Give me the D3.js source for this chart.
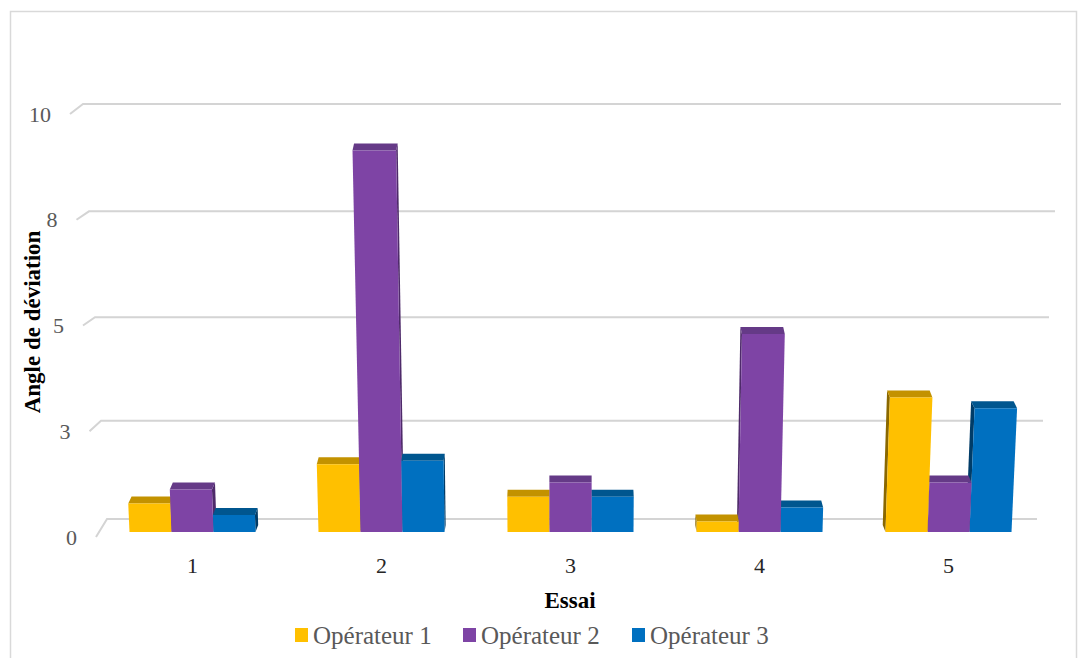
<!DOCTYPE html>
<html>
<head>
<meta charset="utf-8">
<script src="https://cdn.jsdelivr.net/npm/d3@7"></script>
<style>
  body { margin: 0; background: #fff; }
  text { font-family: "Liberation Serif", "DejaVu Serif", serif; }
</style>
</head>
<body>
<div id="chart"></div>
<script>
// data
const categories = ["1", "2", "3", "4", "5"];
const seriesNames = ["Opérateur 1", "Opérateur 2", "Opérateur 3"];
const op1 = [0.67, 1.6, 0.83, 0.25, 3.17];
const op2 = [1.0, 9.0, 1.17, 4.67, 1.17];
const op3 = [0.4, 1.68, 0.83, 0.58, 2.92];
const yTicks = [0, 2.5, 5, 7.5, 10];
const yTickLabels = ["0", "3", "5", "8", "10"];

const seriesValues = [op1, op2, op3];
const colors = {
  front: ["#ffc000", "#7e44a5", "#0070c0"],
  top: ["#c39200", "#653a87", "#00568f"],
  side: ["#8a6800", "#4e2a6a", "#003c68"],
};

const width = 1084, height = 658;
const svg = d3.select("#chart").append("svg")
  .attr("width", width)
  .attr("height", height);

// outer frame
svg.append("rect")
  .attr("x", 10.5).attr("y", 11.5)
  .attr("width", 1066).attr("height", 680)
  .attr("fill", "none")
  .attr("stroke", "#d9d9d9")
  .attr("stroke-width", 1.5);

// 3d-ish scales: back wall and front edge of the side wall
const yBack = d3.scalePow().exponent(1.04).domain([0, 10]).range([519, 104]);
const xBackL = d3.scaleLinear().domain([0, 10]).range([107, 83]);
const xBackR = d3.scaleLinear().domain([0, 10]).range([1037, 1061]);
const yFront = d3.scaleLinear().domain([0, 10]).range([537, 114]);
const xFrontL = d3.scaleLinear().domain([0, 10]).range([96, 70]);

// bars (front plane)
const yBar = d3.scaleLinear().domain([0, 10]).range([532, 108]);
const x0 = d3.scaleBand().domain(categories).range([98, 1043])
  .paddingInner(1 / 3).paddingOuter(1 / 6);
const x1 = d3.scaleBand().domain(seriesNames).range([0, x0.bandwidth()]);

const cx = 567;     // vanishing centre
const lean = 0.0043; // widening per unit of value
const depthK = 0.008;
const depthY = 7;

// gridlines
const grid = svg.append("g");
yTicks.forEach((t) => {
  grid.append("path")
    .attr("d", d3.line()([
      [xFrontL(t), yFront(t)],
      [xBackL(t), yBack(t)],
      [xBackR(t), yBack(t)],
    ]))
    .attr("fill", "none")
    .attr("stroke", "#d4d4d4")
    .attr("stroke-width", 2);
});

// y tick labels
svg.append("g").selectAll("text")
  .data(yTicks)
  .enter()
  .append("text")
  .attr("x", (d) => xFrontL(d) - 19)
  .attr("y", (d) => yFront(d))
  .attr("dy", "0.35em")
  .attr("text-anchor", "end")
  .attr("fill", "#595959")
  .style("font-size", "22px")
  .text((d, i) => yTickLabels[i]);

// build bars
let bars = [];
categories.forEach((c, i) => {
  seriesNames.forEach((s, j) => {
    const xa = x0(c) + x1(s);
    const xb = xa + x1.bandwidth();
    bars.push({ xa, xb, v: seriesValues[j][i], j });
  });
});
// farthest from centre first so nearer faces cover the side faces
bars.sort((a, b) => Math.abs((b.xa + b.xb) / 2 - cx) - Math.abs((a.xa + a.xb) / 2 - cx));

const line = d3.line();
const barG = svg.append("g");
bars.forEach((d) => {
  const yb = yBar(0), yt = yBar(d.v);
  const s = 1 + lean * d.v;
  const ta = cx + (d.xa - cx) * s;
  const tb = cx + (d.xb - cx) * s;
  const dx = (cx - (ta + tb) / 2) * depthK;

  // side face
  let side;
  if (dx > 0) {
    side = [[d.xb, yb], [tb, yt], [tb + dx, yt - depthY], [d.xb + dx, yb - depthY]];
  } else {
    side = [[d.xa, yb], [ta, yt], [ta + dx, yt - depthY], [d.xa + dx, yb - depthY]];
  }
  barG.append("path").attr("d", line(side) + "Z").attr("fill", colors.side[d.j]);

  // top face
  barG.append("path")
    .attr("d", line([[ta, yt], [tb, yt], [tb + dx, yt - depthY], [ta + dx, yt - depthY]]) + "Z")
    .attr("fill", colors.top[d.j]);

  // front face
  barG.append("path")
    .attr("d", line([[d.xa, yb], [d.xb, yb], [tb, yt], [ta, yt]]) + "Z")
    .attr("fill", colors.front[d.j]);
});

// category labels
svg.append("g").selectAll("text")
  .data(categories)
  .enter()
  .append("text")
  .attr("x", (d) => x0(d) + x0.bandwidth() / 2)
  .attr("y", 565)
  .attr("dy", "0.35em")
  .attr("text-anchor", "middle")
  .attr("fill", "#262626")
  .style("font-size", "22px")
  .text((d) => d);

// axis titles
svg.append("text")
  .attr("x", 570)
  .attr("y", 600)
  .attr("dy", "0.35em")
  .attr("text-anchor", "middle")
  .style("font-size", "23px")
  .style("font-weight", "bold")
  .text("Essai");

svg.append("text")
  .attr("transform", "translate(32, 322) rotate(-90)")
  .attr("dy", "0.35em")
  .attr("text-anchor", "middle")
  .style("font-size", "23px")
  .style("font-weight", "bold")
  .text("Angle de déviation");

// legend
const legendX = [295, 463, 632];
const legend = svg.append("g").selectAll("g")
  .data(seriesNames)
  .enter()
  .append("g")
  .attr("transform", (d, i) => `translate(${legendX[i]}, 635)`);

legend.append("rect")
  .attr("x", 0).attr("y", -7)
  .attr("width", 13).attr("height", 14)
  .attr("fill", (d, i) => colors.front[i]);

legend.append("text")
  .attr("x", 18)
  .attr("y", 0)
  .attr("dy", "0.35em")
  .attr("fill", "#595959")
  .style("font-size", "25px")
  .text((d) => d);
</script>
</body>
</html>
